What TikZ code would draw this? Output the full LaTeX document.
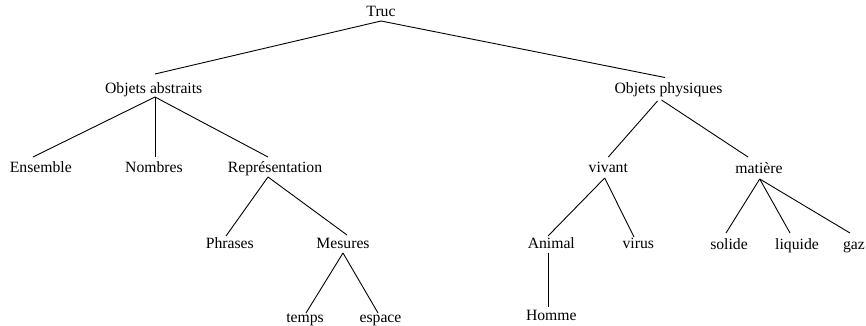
\documentclass[tikz,border=0pt]{standalone}
\usepackage{fontspec}
\setmainfont{Liberation Serif}
\begin{document}
\begin{tikzpicture}[x=1pt,y=-1pt,
  lbl/.style={anchor=base,inner sep=0pt,font=\fontsize{15.7}{18}\selectfont},
  branch/.style={line width=0.9pt,black}]
\useasboundingbox (0,0) rectangle (866,326);
% labels, placed by centre and baseline
\node[lbl] (truc) at (381,17) {Truc};
\node[lbl] (oa) at (153.7,94) {Objets abstraits};
\node[lbl] (op) at (668.5,93.5) {Objets physiques};
\node[lbl] (ens) at (40.8,172.5) {Ensemble};
\node[lbl] (nom) at (154,172.5) {Nombres};
\node[lbl] (rep) at (275,172.5) {Représentation};
\node[lbl] (viv) at (608.3,172.5) {vivant};
\node[lbl] (mat) at (759,173) {matière};
\node[lbl] (phr) at (229.8,248) {Phrases};
\node[lbl] (mes) at (343,248) {Mesures};
\node[lbl] (ani) at (551.3,248) {Animal};
\node[lbl] (vir) at (638.3,248) {virus};
\node[lbl] (sol) at (729,249) {solide};
\node[lbl] (liq) at (797,249) {liquide};
\node[lbl] (gaz) at (854,249) {gaz};
\node[lbl] (tem) at (305,322.5) {temps};
\node[lbl] (esp) at (380.5,322.5) {espace};
\node[lbl] (hom) at (551.3,320) {Homme};
% branches
\draw[branch] ([shift={(0,4)}]truc.base) -- ([shift={(1.3,-20)}]oa.base);
\draw[branch] ([shift={(0,4)}]truc.base) -- ([shift={(-3.5,-16)}]op.base);
\draw[branch] ([shift={(1.3,3)}]oa.base) -- ([shift={(-7.8,-15.5)}]ens.base);
\draw[branch] ([shift={(1.3,3)}]oa.base) -- ([shift={(1,-15.5)}]nom.base);
\draw[branch] ([shift={(1.3,3)}]oa.base) -- ([shift={(-7,-15.5)}]rep.base);
\draw[branch] ([shift={(-7,4.5)}]rep.base) -- ([shift={(-3.8,-12)}]phr.base);
\draw[branch] ([shift={(-7,4.5)}]rep.base) -- ([shift={(4,-13)}]mes.base);
\draw[branch] ([shift={(0,5)}]mes.base) -- ([shift={(1,-9.5)}]tem.base);
\draw[branch] ([shift={(0,5)}]mes.base) -- ([shift={(-2.5,-9.5)}]esp.base);
\draw[branch] ([shift={(-11,7.5)}]op.base) -- ([shift={(0,-15.5)}]viv.base);
\draw[branch] ([shift={(-7,6.5)}]op.base) -- ([shift={(-11,-16)}]mat.base);
\draw[branch] ([shift={(-3.6,5.5)}]viv.base) -- ([shift={(-3.3,-12)}]ani.base);
\draw[branch] ([shift={(-3.6,5.5)}]viv.base) -- ([shift={(-4.3,-11)}]vir.base);
\draw[branch] ([shift={(-3.3,4.7)}]ani.base) -- ([shift={(-3.3,-13)}]hom.base);
\draw[branch] ([shift={(0.7,6)}]mat.base) -- ([shift={(-3,-16)}]sol.base);
\draw[branch] ([shift={(0.7,6)}]mat.base) -- ([shift={(-7,-16)}]liq.base);
\draw[branch] ([shift={(0.7,6)}]mat.base) -- ([shift={(-4,-16)}]gaz.base);
\end{tikzpicture}
\end{document}
